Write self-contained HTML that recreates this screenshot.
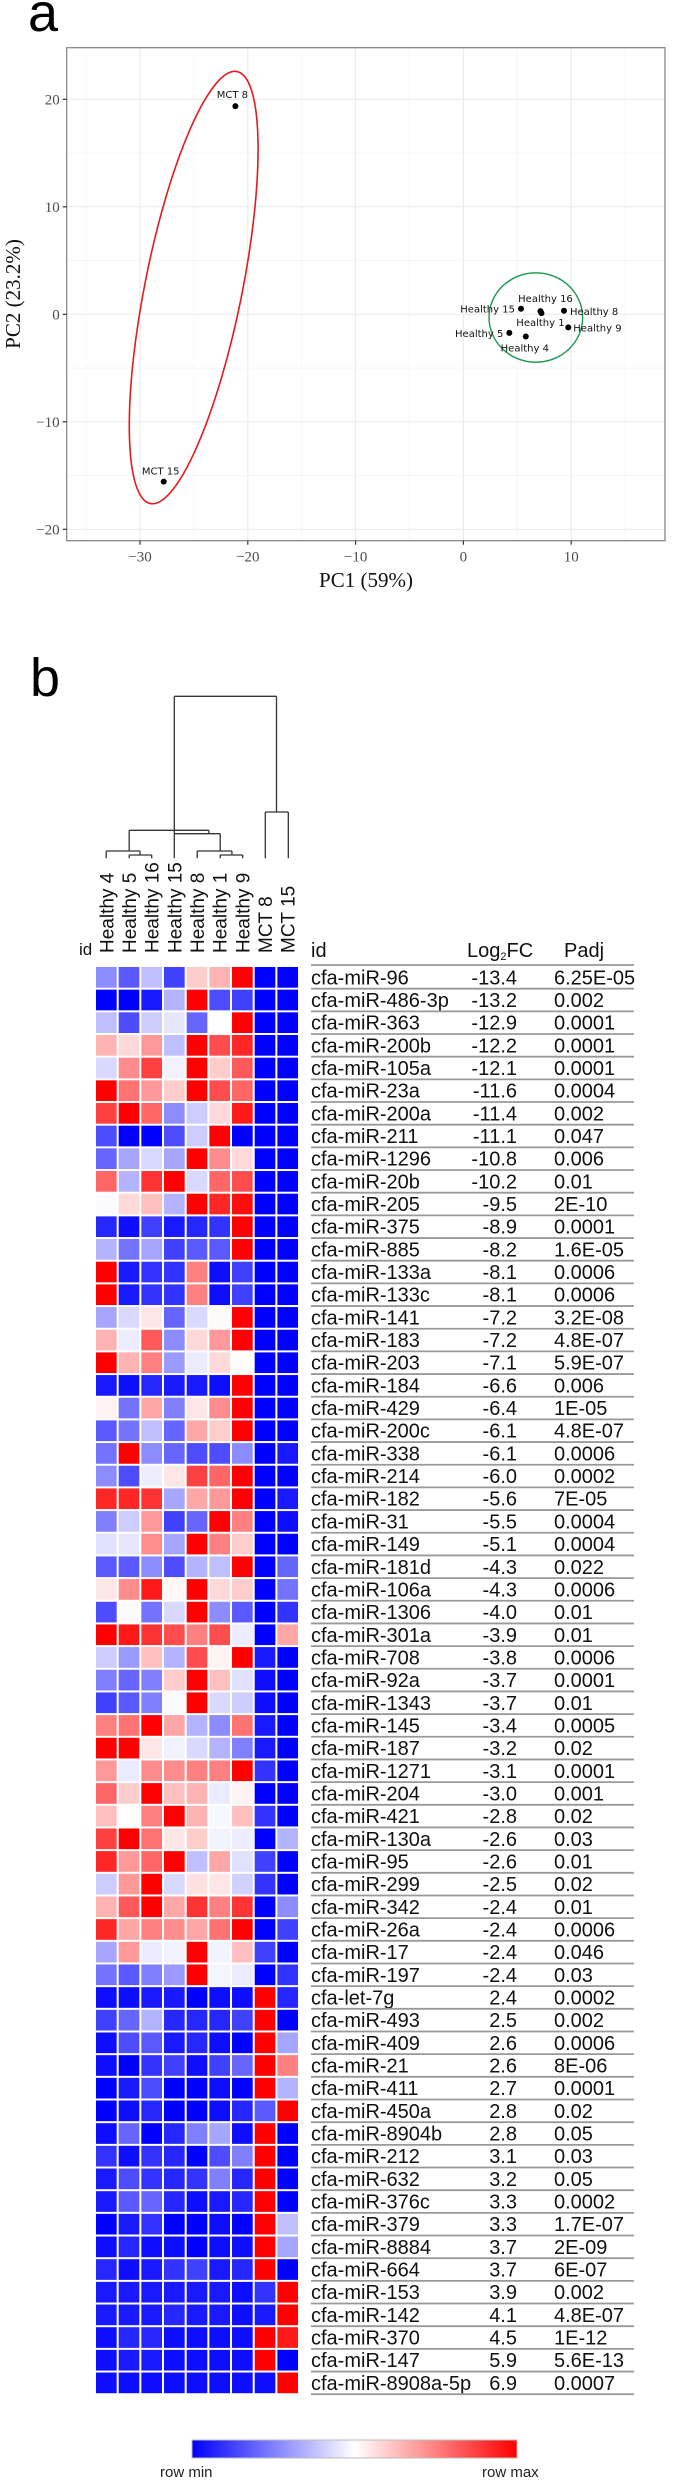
<!DOCTYPE html>
<html><head><meta charset="utf-8"><style>
html,body{margin:0;padding:0;background:#fff;}
svg{display:block;}
.serif{font-family:"Liberation Serif",serif;}
.sans{font-family:"Liberation Sans",sans-serif;}
</style></head><body>
<svg id="fig" width="678" height="2480" viewBox="0 0 678 2480" xmlns="http://www.w3.org/2000/svg">
<text x="28" y="31" class="sans" font-size="54">a</text>
<g id="pca"></g>
<text x="30" y="696" class="sans" font-size="54">b</text>
<g id="dendro" stroke="#333" stroke-width="1.3" fill="none"></g>
<g id="heat"></g>
<g id="table"></g>
<g>
<defs><linearGradient id="grad" x1="0" x2="1" y1="0" y2="0"><stop offset="0" stop-color="#0000ff"/><stop offset="0.5" stop-color="#ffffff"/><stop offset="1" stop-color="#ff0000"/></linearGradient></defs>
<rect x="192" y="2440" width="325" height="18" fill="url(#grad)" stroke="#bbb" stroke-width="1"/>
<text x="160" y="2477" class="sans" font-size="15" fill="#222">row  min</text>
<text x="482" y="2477" class="sans" font-size="15" fill="#222">row  max</text>
</g>
</svg>
<script>
const NS="http://www.w3.org/2000/svg";
// ---------- PCA data ----------
const pcaLabels=["MCT 8","MCT 15","Healthy 15","Healthy 16","Healthy 1","Healthy 8","Healthy 9","Healthy 5","Healthy 4"];
const pc1=[-21.15,-27.8,5.34,7.15,7.24,9.33,9.73,4.26,5.79];
const pc2=[19.37,-15.57,0.52,0.30,0.11,0.33,-1.22,-1.73,-2.07];
const xTicks=[-30,-20,-10,0,10];
const yTicks=[-20,-10,0,10,20];
// ---------- Heatmap data ----------
const sampleNames=["Healthy 4","Healthy 5","Healthy 16","Healthy 15","Healthy 8","Healthy 1","Healthy 9","MCT 8","MCT 15"];
const mirnas=["cfa-miR-96","cfa-miR-486-3p","cfa-miR-363","cfa-miR-200b","cfa-miR-105a","cfa-miR-23a","cfa-miR-200a","cfa-miR-211","cfa-miR-1296","cfa-miR-20b","cfa-miR-205","cfa-miR-375","cfa-miR-885","cfa-miR-133a","cfa-miR-133c","cfa-miR-141","cfa-miR-183","cfa-miR-203","cfa-miR-184","cfa-miR-429","cfa-miR-200c","cfa-miR-338","cfa-miR-214","cfa-miR-182","cfa-miR-31","cfa-miR-149","cfa-miR-181d","cfa-miR-106a","cfa-miR-1306","cfa-miR-301a","cfa-miR-708","cfa-miR-92a","cfa-miR-1343","cfa-miR-145","cfa-miR-187","cfa-miR-1271","cfa-miR-204","cfa-miR-421","cfa-miR-130a","cfa-miR-95","cfa-miR-299","cfa-miR-342","cfa-miR-26a","cfa-miR-17","cfa-miR-197","cfa-let-7g","cfa-miR-493","cfa-miR-409","cfa-miR-21","cfa-miR-411","cfa-miR-450a","cfa-miR-8904b","cfa-miR-212","cfa-miR-632","cfa-miR-376c","cfa-miR-379","cfa-miR-8884","cfa-miR-664","cfa-miR-153","cfa-miR-142","cfa-miR-370","cfa-miR-147","cfa-miR-8908a-5p"];
const log2fc=["-13.4","-13.2","-12.9","-12.2","-12.1","-11.6","-11.4","-11.1","-10.8","-10.2","-9.5","-8.9","-8.2","-8.1","-8.1","-7.2","-7.2","-7.1","-6.6","-6.4","-6.1","-6.1","-6.0","-5.6","-5.5","-5.1","-4.3","-4.3","-4.0","-3.9","-3.8","-3.7","-3.7","-3.4","-3.2","-3.1","-3.0","-2.8","-2.6","-2.6","-2.5","-2.4","-2.4","-2.4","-2.4","2.4","2.5","2.6","2.6","2.7","2.8","2.8","3.1","3.2","3.3","3.3","3.7","3.7","3.9","4.1","4.5","5.9","6.9"];
const padj=["6.25E-05","0.002","0.0001","0.0001","0.0001","0.0004","0.002","0.047","0.006","0.01","2E-10","0.0001","1.6E-05","0.0006","0.0006","3.2E-08","4.8E-07","5.9E-07","0.006","1E-05","4.8E-07","0.0006","0.0002","7E-05","0.0004","0.0004","0.022","0.0006","0.01","0.01","0.0006","0.0001","0.01","0.0005","0.02","0.0001","0.001","0.02","0.03","0.01","0.02","0.01","0.0006","0.046","0.03","0.0002","0.002","0.0006","8E-06","0.0001","0.02","0.05","0.03","0.05","0.0002","1.7E-07","2E-09","6E-07","0.002","4.8E-07","1E-12","5.6E-13","0.0007"];
const heatValues=[
[-0.45,-0.65,-0.25,-0.75,0.2,0.3,1,-1,-1],
[-1,-1,-0.9,-0.3,1,-0.7,-0.75,-1,-1],
[-0.25,-0.7,-0.2,-0.1,-0.6,0,1,-1,-1],
[0.3,0.15,0.4,-0.25,1,0.7,0.85,-1,-1],
[-0.15,0.45,0.75,-0.05,1,0.2,0.65,-1,-1],
[1,0.55,0.4,0.2,1,0.7,0.6,-1,-1],
[0.75,1,0.6,-0.45,-0.2,0.15,0.9,-1,-1],
[-0.7,-1,-1,-0.7,-0.2,1,-1,-1,-1],
[-0.6,-0.35,-0.15,-0.35,1,0.45,0.15,-1,-1],
[0.6,-0.3,0.8,1,-0.15,0.6,0.7,-1,-1],
[-0.02,0.15,0.25,-0.3,1,0.85,0.95,-1,-1],
[-0.85,-0.95,-0.75,-0.9,-0.85,-0.8,1,-1,-1],
[-0.3,-0.55,-0.35,-0.75,-0.65,-0.65,1,-1,-1],
[1,-0.9,-0.8,-0.8,0.5,-0.95,-0.75,-1,-1],
[1,-0.9,-0.8,-0.8,0.5,-0.95,-0.75,-1,-1],
[-0.35,-0.15,0.1,-0.6,-0.15,0.02,1,-1,-1],
[0.3,-0.07,0.65,-0.45,0.15,0.4,1,-1,-1],
[1,0.3,0.5,-0.4,-0.08,0.15,0.01,-1,-1],
[-0.9,-0.95,-0.85,-0.9,-0.9,-0.95,1,-1,-1],
[0.05,-0.55,0.35,-0.5,0.1,0.45,1,-1,-1],
[-0.65,-0.55,-0.25,-0.6,0.35,0.2,1,-1,-1],
[-0.55,1,-0.45,-0.6,-0.7,-0.7,-0.45,-1,-0.9],
[-0.45,-0.7,-0.07,0.1,0.75,0.6,1,-1,-1],
[0.85,0.85,0.8,-0.35,0.35,0.4,1,-1,-0.9],
[-0.5,-0.2,0.4,-0.75,-0.6,1,0.5,-1,-0.95],
[-0.12,-0.1,0.45,-0.35,1,0.5,0.2,-1,-1],
[-0.65,-0.65,-0.45,-0.7,-0.3,-0.25,1,-1,-0.6],
[0.1,0.45,0.9,0.03,1,0.15,0.2,-1,-0.55],
[-0.7,-0.02,-0.55,-0.15,1,-0.45,-0.65,-1,-0.8],
[1,0.9,0.8,0.7,0.5,0.7,-0.07,-1,0.35],
[-0.2,-0.4,0.25,-0.3,0.7,0.05,1,-0.9,-1],
[-0.5,-0.6,-0.5,0.2,1,0.25,-0.12,-0.95,-1],
[-0.75,-0.65,-0.5,-0.02,1,-0.15,-0.2,-0.95,-1],
[0.5,0.55,1,0.35,-0.3,-0.45,0.55,-0.9,-1],
[1,1,0.1,-0.05,-0.15,-0.3,-0.5,-0.9,-1],
[0.4,-0.08,0.45,0.45,0.5,0.5,1,-0.8,-1],
[0.6,0.2,1,0.25,0.3,-0.08,0.05,-1,-1],
[0.25,0,0.5,1,0.3,-0.03,0.25,-0.8,-1],
[0.75,1,0.55,0.1,0.2,-0.05,-0.07,-1,-0.3],
[0.85,0.4,0.6,1,-0.25,0.35,-0.12,-0.75,-1],
[-0.2,0.4,1,-0.15,0.12,0.1,-0.18,-0.8,-1],
[0.3,0.65,1,0.35,0.8,0.5,0.8,-1,-0.45],
[0.85,0.35,0.5,0.45,0.35,0.55,1,-1,-0.75],
[-0.35,0.4,-0.08,-0.05,1,-0.05,0.25,-0.75,-1],
[-0.55,-0.65,-0.5,-0.4,1,-0.04,-0.08,-1,-0.8],
[-0.95,-0.95,-0.9,-0.9,-1,-0.95,-0.95,1,-0.85],
[-0.75,-0.6,-0.3,-0.85,-0.85,-0.85,-0.75,1,-1],
[-0.95,-0.7,-0.65,-0.9,-0.85,-0.95,-1,1,-0.35],
[-0.95,-1,-0.8,-0.75,-0.95,-0.75,-0.6,1,0.5],
[-1,-0.9,-0.7,-1,-1,-0.95,-1,1,-0.3],
[-1,-0.95,-0.85,-1,-1,-0.95,-0.85,-0.65,1],
[-0.95,-0.6,-1,-0.85,-0.5,-0.35,-0.95,1,-1],
[-0.8,-0.95,-0.8,-0.85,-1,-0.7,-0.5,1,-1],
[-0.9,-0.7,-0.8,-0.85,-0.8,-0.5,-0.85,1,-1],
[-0.9,-0.65,-0.6,-0.85,-0.95,-0.9,-0.85,1,-1],
[-1,-0.9,-0.8,-1,-1,-0.95,-1,1,-0.25],
[-0.95,-0.85,-0.95,-0.95,-1,-0.95,-0.95,1,-0.35],
[-0.85,-0.95,-0.9,-0.8,-0.75,-0.9,-0.85,1,-1],
[-0.9,-0.9,-0.9,-0.9,-0.9,-0.9,-0.95,-0.8,1],
[-0.9,-0.9,-0.9,-0.85,-0.9,-0.9,-0.95,-0.9,1],
[-0.95,-0.85,-0.85,-0.95,-0.95,-0.95,-0.95,1,0.9],
[-0.95,-0.9,-0.9,-0.95,-0.95,-0.95,-0.95,1,-1],
[-0.95,-0.95,-0.95,-0.95,-0.95,-0.95,-0.95,-0.95,1]
];

function mk(tag,attrs,parent){const e=document.createElementNS(NS,tag);for(const k in attrs)e.setAttribute(k,attrs[k]);parent.appendChild(e);return e;}

// ---------- PCA ----------
(function(){
const g=document.getElementById('pca');
const L=66.7,R=665,T=47.7,B=540.7;
const sx=v=>463.4+10.78*v;
const sy=v=>314.3-10.75*v;
let e;
for(let v=-35;v<=15;v+=5){const major=v%10===0;
 e=mk('line',{x1:sx(v),x2:sx(v),y1:T,y2:B,stroke:major?'#ebebeb':'#f4f4f4','stroke-width':major?1.2:0.8},g);
 
 }
for(let v=-20;v<=20;v+=5){const major=v%10===0;
 e=mk('line',{x1:L,x2:R,y1:sy(v),y2:sy(v),stroke:major?'#ebebeb':'#f4f4f4','stroke-width':major?1.2:0.8},g);
 
 }
// ellipses
e=mk('ellipse',{cx:sx(-25.02),cy:sy(2.49),rx:48.6,ry:220.3,fill:'none',stroke:'#e41a1c','stroke-width':1.6,transform:`rotate(11.34 ${sx(-25.02)} ${sy(2.49)})`},g);


e=mk('ellipse',{cx:sx(6.72),cy:sy(-0.3),rx:46.8,ry:44.7,fill:'none',stroke:'#1a9850','stroke-width':1.4},g);


mk('rect',{x:L,y:T,width:R-L,height:B-T,fill:'none',stroke:'#7f7f7f','stroke-width':1.2},g);
// points and labels
const lab=[ // [dx,dy,anchor]
 [-3,-8,'middle'],[-3,-7,'middle'],[-6,4,'end'],[5,-9,'middle'],[-1,13,'middle'],[6,4,'start'],[5,4,'start'],[-6,4,'end'],[-1,15,'middle']];
pcaLabels.forEach((n,i)=>{
 const x=sx(pc1[i]),y=sy(pc2[i]);
 const c=mk('circle',{cx:x,cy:y,r:3,fill:'#000'},g);
 
 
 const t=mk('text',{x:x+lab[i][0],y:y+lab[i][1],'text-anchor':lab[i][2],'font-size':10,'font-family':'"DejaVu Sans",sans-serif',fill:'#111'},g);
 t.textContent=n;
 
 
});
xTicks.forEach(v=>{
 mk('line',{x1:sx(v),x2:sx(v),y1:B,y2:B+4,stroke:'#333','stroke-width':1.2},g);
 const t=mk('text',{x:sx(v),y:B+21,'text-anchor':'middle','font-size':15,fill:'#4d4d4d',class:'serif'},g);
 t.textContent=v<0?'\u2212'+(-v):String(v);
 
 
});
yTicks.forEach(v=>{
 mk('line',{x1:L-4,x2:L,y1:sy(v),y2:sy(v),stroke:'#333','stroke-width':1.2},g);
 const t=mk('text',{x:L-7,y:sy(v)+5,'text-anchor':'end','font-size':15,fill:'#4d4d4d',class:'serif'},g);
 t.textContent=v<0?'\u2212'+(-v):String(v);
 
 
});
let t=mk('text',{x:366,y:587,'text-anchor':'middle','font-size':21,class:'serif',fill:'#111'},g);
t.textContent='PC1 (59%)';


t=mk('text',{x:0,y:0,'text-anchor':'middle','font-size':21,class:'serif',fill:'#111',transform:'translate(20,294) rotate(-90)'},g);
t.textContent='PC2 (23.2%)';


})();

// ---------- Dendrogram ----------
(function(){
const g=document.getElementById('dendro');
const segs=[[245,693,245,715],[245,693,323,693],[323,693,323,705],[298,705,350,705],[298,705,298,715],[350,705,350,715],[298,631,298,693],[298,631,482,631],[482,631,482,641],[402,641,508,641],[402,229,402,715],[508,641,508,693],[455,693,535,693],[455,693,455,715],[535,693,535,705],[508,705,560,705],[508,705,508,715],[560,705,560,715],[402,229,638,229],[638,229,638,576],[612,576,665,576],[612,576,612,715],[665,576,665,715]];
let d='';
segs.forEach(s=>{d+=`M${(s[0]/2.307).toFixed(1)} ${(s[1]/3+620).toFixed(1)}L${(s[2]/2.307).toFixed(1)} ${(s[3]/3+620).toFixed(1)}`;});
const p=mk('path',{d:d},g);


})();

// ---------- Heatmap ----------
(function(){
const g=document.getElementById('heat');
const X0=95,Y0=966,CW=22.67,CH=22.67;
const col=v=>{if(v<0){const c=Math.round(255*(1+v));return `rgb(${c},${c},255)`;}const c=Math.round(255*(1-v));return `rgb(255,${c},${c})`;};
sampleNames.forEach((n,j)=>{
 const cx=X0+CW*(j+0.5);
 const t=mk('text',{x:0,y:0,'font-size':19,class:'sans',fill:'#111',transform:`translate(${cx+7},953) rotate(-90)`},g);
 t.textContent=n;
 
 
});
let t=mk('text',{x:79,y:955,'font-size':17,class:'sans',fill:'#111'},g);
t.textContent='id';


heatValues.forEach((row,i)=>row.forEach((v,j)=>{
 const r=mk('rect',{x:X0+CW*j+1,y:Y0+CH*i+1,width:CW-2,height:CH-2,fill:col(v)},g);
 
 
}));
})();

// ---------- Table ----------
(function(){
const g=document.getElementById('table');
const Y0=966,CH=22.67;
let t=mk('text',{x:311,y:957,'font-size':20,class:'sans',fill:'#111'},g);
t.textContent='id';


t=mk('text',{x:467,y:957,'font-size':20,class:'sans',fill:'#111'},g);
t.innerHTML='Log<tspan font-size="11" dy="3">2</tspan><tspan dy="-3">FC</tspan>';


t=mk('text',{x:564,y:957,'font-size':20,class:'sans',fill:'#111'},g);
t.textContent='Padj';


let l=mk('line',{x1:311,x2:634,y1:Y0-1,y2:Y0-1,stroke:'#999','stroke-width':1.8},g);


mirnas.forEach((m,i)=>{
 const base=Y0+CH*i+CH/2+7;
 let a=mk('text',{x:311,y:base,'font-size':20,class:'sans',fill:'#111'},g);
 a.textContent=m;
 
 
 a=mk('text',{x:517,y:base,'font-size':20,class:'sans',fill:'#111','text-anchor':'end'},g);
 a.textContent=log2fc[i];
 
 
 a=mk('text',{x:554,y:base,'font-size':20,class:'sans',fill:'#111'},g);
 a.textContent=padj[i];
 
 
 const ln=mk('line',{x1:311,x2:634,y1:Y0+CH*(i+1),y2:Y0+CH*(i+1),stroke:'#999','stroke-width':1.8},g);
 
 
});
})();
</script>
</body></html>
